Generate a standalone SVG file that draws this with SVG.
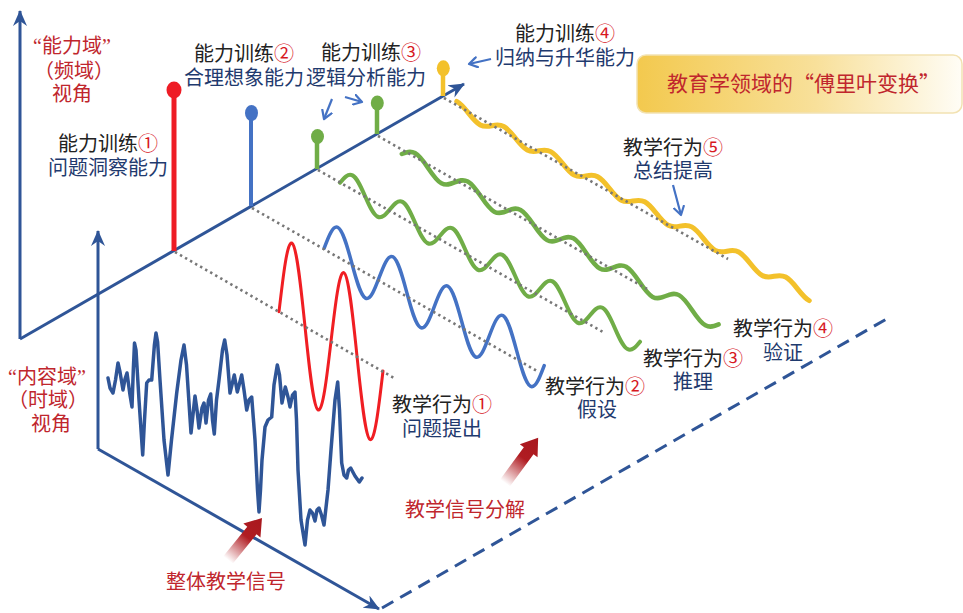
<svg xmlns="http://www.w3.org/2000/svg" width="963" height="613" viewBox="0 0 963 613">
<defs>
<style>
.t{font-family:"Liberation Sans","Noto Sans CJK SC",sans-serif;font-size:20px}
.cjk{font-family:"Noto Sans CJK SC",sans-serif}
.q{font-family:"Liberation Serif",serif}
.k{fill:#222}
.b{fill:#1f3a6e}
.r{fill:#d7191f}
.dr{fill:#c0262d}
.axis{stroke:#2f5597;stroke-width:3;fill:none}
.dot{stroke:#777777;stroke-width:2.6;stroke-dasharray:2.4 3.4;fill:none}
.wave{fill:none;stroke-linecap:round;stroke-linejoin:round}
.sm{stroke:#4472c4;stroke-width:2.2;fill:none}
</style>
<marker id="ah" markerUnits="userSpaceOnUse" markerWidth="18" markerHeight="14" refX="15" refY="7" orient="auto">
<path d="M0,0 L16,7 L0,14 L5,7 z" fill="#2f5597"/>
</marker>
<marker id="sa" markerUnits="userSpaceOnUse" markerWidth="12" markerHeight="12" refX="9" refY="6" orient="auto">
<path d="M1,1 L9,6 L1,11" fill="none" stroke="#4472c4" stroke-width="2.2" stroke-linecap="round" stroke-linejoin="round"/>
</marker>
<linearGradient id="redarrow" x1="0" y1="0" x2="1" y2="0">
<stop offset="0" stop-color="#b01c22" stop-opacity="0"/>
<stop offset="0.55" stop-color="#b01c22" stop-opacity="1"/>
<stop offset="1" stop-color="#a8181e"/>
</linearGradient>
<linearGradient id="title" x1="0" y1="0" x2="1" y2="0">
<stop offset="0" stop-color="#f3c94e"/>
<stop offset="0.55" stop-color="#f8e09a"/>
<stop offset="1" stop-color="#fffdf6"/>
</linearGradient>
</defs>
<rect width="963" height="613" fill="#ffffff"/>

<g id="connectors">
<line class="axis" x1="20" y1="339" x2="20" y2="11" marker-end="url(#ah)"/>
<line class="axis" x1="20" y1="339" x2="464" y2="84" marker-end="url(#ah)"/>
<line class="axis" x1="98" y1="449" x2="98" y2="231" marker-end="url(#ah)"/>
<line class="axis" x1="98" y1="449" x2="379" y2="609" marker-end="url(#ah)"/>
<line class="axis" x1="382" y1="608" x2="890" y2="317" stroke-dasharray="13 8"/>
<line class="sm" x1="332" y1="99" x2="324" y2="119" marker-end="url(#sa)"/>
<line class="sm" x1="345" y1="97" x2="362" y2="102" marker-end="url(#sa)"/>
<line class="sm" x1="491" y1="59" x2="469" y2="64" marker-end="url(#sa)"/>
<line class="sm" x1="673" y1="185" x2="681" y2="215" marker-end="url(#sa)"/>
</g>

<g id="signal-whole">
<polyline class="wave" stroke="#2f5597" stroke-width="3.5" points="108,378 110,388 113,393 115.5,380 118,363 120,372 123,390 125,379 127,373 130,395 132,407 133.3,370 134.5,343 136,350 139,400 142.7,455 144.5,420 146.7,383 149,380 151.7,380 154.4,345 156,333 157.6,342 160,380 164,440 168,475 171.5,440 176.7,393 181,360 184,345 186.5,365 191,433 195,396 197,410 199,428 202,408 204,403 206,423 208.5,400 210.7,394 212.5,420 214.3,434 216.5,400 219,380 222.5,350 224.7,340 227,355 230,393 234.3,375 237.3,392 241.7,375 244,390 246.7,410 249,400 251.7,397 255,440 257.5,490 259,512 260.5,490 262,460 265,427 268,420 271.7,417 274,385 277.3,365 279.5,375 282,403 285.3,387 288,397 290,407 292.5,395 295,392 296.5,420 298,470 301,520 305,545 307.5,520 310,510 312.5,513 315,521 317,510 319,508 321.5,515 324,525 328,490 331,450 335,400 337.7,382 339.5,410 341.7,463 344,475 346.7,478 348.5,470 350.7,468 355,476 359.3,482 362,478"/>
</g>

<g id="wave-yellow">
<path class="wave" stroke="#f3c12b" stroke-width="5" vector-effect="non-scaling-stroke" transform="translate(633,201) skewY(28.1)" d="M-176.25,-5.5 C-167.71,-5.5 -161.29,5.5 -152.75,5.5 S-137.79,-5.5 -129.25,-5.5 S-114.29,5.5 -105.75,5.5 S-90.79,-5.5 -82.25,-5.5 S-67.29,5.5 -58.75,5.5 S-43.79,-5.5 -35.25,-5.5 S-20.29,5.5 -11.75,5.5 S3.21,-5.5 11.75,-5.5 S26.71,5.5 35.25,5.5 S50.21,-5.5 58.75,-5.5 S73.71,5.5 82.25,5.5 S97.21,-5.5 105.75,-5.5 S120.71,5.5 129.25,5.5 S144.21,-5.5 152.75,-5.5 S167.71,5.5 176.25,5.5"/>
</g>
<g id="wave-green2">
<path class="wave" stroke="#70ad47" stroke-width="4.5" vector-effect="non-scaling-stroke" transform="translate(415,161.1) skewY(28.28)" d="M-13.2,0 C-8.9,-4.1 -4.78,-8 0,-8 C9.59,-8 16.81,8 26.4,8 S43.21,-8 52.8,-8 S69.61,8 79.2,8 S96.01,-8 105.6,-8 S122.41,8 132,8 S148.81,-8 158.4,-8 S175.21,8 184.8,8 S201.61,-8 211.2,-8 S228.01,8 237.6,8 S254.41,-8 264,-8 S280.81,8 290.4,8 C295.18,8 299.3,4.1 303.6,0"/>
</g>
<g id="wave-green1">
<path class="wave" stroke="#70ad47" stroke-width="4" vector-effect="non-scaling-stroke" transform="translate(365,196) skewY(27.92)" d="M-25,0 C-20.92,-7.17 -17.02,-14 -12.5,-14 C-3.42,-14 3.42,14 12.5,14 S28.42,-14 37.5,-14 S53.42,14 62.5,14 S78.42,-14 87.5,-14 S103.42,14 112.5,14 S128.42,-14 137.5,-14 S153.42,14 162.5,14 S178.42,-14 187.5,-14 S203.42,14 212.5,14 S228.42,-14 237.5,-14 S253.42,14 262.5,14 C267.02,14 270.92,7.17 275,0"/>
</g>
<g id="wave-blue">
<path class="wave" stroke="#4472c4" stroke-width="3.5" vector-effect="non-scaling-stroke" transform="translate(351.7,262.8) skewY(28.1)" d="M-27.5,0 C-23.02,-14.34 -18.73,-28 -13.75,-28 C-3.76,-28 3.76,28 13.75,28 S31.26,-28 41.25,-28 S58.76,28 68.75,28 S86.26,-28 96.25,-28 S113.76,28 123.75,28 S141.26,-28 151.25,-28 S168.76,28 178.75,28 C183.73,28 188.02,14.34 192.5,0"/>
</g>
<g id="wave-red">
<path class="wave" stroke="#f01e23" stroke-width="3" vector-effect="non-scaling-stroke" transform="translate(305,326.5) skewY(29.68)" d="M-26,0 C-21.76,-38.93 -17.7,-76 -13,-76 C-3.55,-76 3.55,76 13,76 S29.55,-76 39,-76 S55.55,76 65,76 C69.7,76 73.76,38.93 78,0"/>
</g>

<g id="dotted-guides">
<line class="dot" x1="175" y1="252" x2="394" y2="378"/>
<line class="dot" x1="252" y1="208" x2="537" y2="371"/>
<line class="dot" x1="318" y1="170" x2="603" y2="332"/>
<line class="dot" x1="378" y1="136" x2="647" y2="289"/>
<line class="dot" x1="444" y1="98" x2="728" y2="259"/>
</g>

<g id="stem-1">
<line x1="174" y1="251" x2="174" y2="92" stroke="#ee1c25" stroke-width="5"/>
<ellipse cx="174" cy="90" rx="7.5" ry="8.5" fill="#ee1c25"/>
</g>
<g id="stem-2">
<line x1="251" y1="206" x2="251" y2="115" stroke="#4472c4" stroke-width="4"/>
<ellipse cx="251.5" cy="113" rx="6.5" ry="8" fill="#4472c4"/>
</g>
<g id="stem-3a">
<line x1="317" y1="169" x2="317" y2="138" stroke="#70ad47" stroke-width="4.5"/>
<ellipse cx="317.5" cy="136.5" rx="6.5" ry="7.5" fill="#70ad47"/>
</g>
<g id="stem-3b">
<line x1="377" y1="134" x2="377" y2="105" stroke="#70ad47" stroke-width="4.5"/>
<ellipse cx="377.3" cy="103" rx="6.5" ry="7.5" fill="#70ad47"/>
</g>
<g id="stem-4">
<line x1="443" y1="96" x2="443" y2="70" stroke="#f3c12b" stroke-width="4.5"/>
<ellipse cx="443.3" cy="68.3" rx="6.5" ry="8" fill="#f3c12b"/>
</g>

<g id="arrow-whole">
<path transform="translate(228,560) rotate(-51)" fill="url(#redarrow)" d="M0,-6 L38,-6 L38,-11 L54,0 L38,11 L38,6 L0,6 z"/>
</g>
<g id="arrow-decomp">
<path transform="translate(505,483) rotate(-53.7)" fill="url(#redarrow)" d="M0,-6 L40,-6 L40,-11 L56,0 L40,11 L40,6 L0,6 z"/>
</g>

<g id="title-box">
<rect x="637" y="55" width="325" height="58" rx="9" fill="url(#title)" stroke="#f2e2b2" stroke-width="1.5"/>
<text class="t cjk dr" x="667" y="91" style="font-size:21px">教育学领域的“傅里叶变换”</text>
</g>

<g id="label-freq">
<text class="t dr" text-anchor="middle"><tspan x="72" y="53"><tspan class="q">“</tspan>能力域<tspan class="q">”</tspan></tspan><tspan x="74" y="78">（频域）</tspan><tspan x="72" y="101">视角</tspan></text>
</g>
<g id="label-time">
<text class="t dr" text-anchor="middle"><tspan x="47" y="384"><tspan class="q">“</tspan>内容域<tspan class="q">”</tspan></tspan><tspan x="48" y="407">（时域）</tspan><tspan x="51" y="431">视角</tspan></text>
</g>

<g id="label-ability1">
<text class="t k"><tspan x="58" y="151">能力训练<tspan class="r">①</tspan></tspan><tspan class="b" x="48" y="175">问题洞察能力</tspan></text>
</g>
<g id="label-ability2">
<text class="t k"><tspan x="194" y="61">能力训练<tspan class="r">②</tspan></tspan><tspan class="b" x="184" y="85">合理想象能力</tspan></text>
</g>
<g id="label-ability3">
<text class="t k"><tspan x="321" y="60">能力训练<tspan class="r">③</tspan></tspan><tspan class="b" x="306" y="85">逻辑分析能力</tspan></text>
</g>
<g id="label-ability4">
<text class="t k"><tspan x="515" y="41">能力训练<tspan class="r">④</tspan></tspan><tspan class="b" x="495" y="65">归纳与升华能力</tspan></text>
</g>

<g id="label-act1">
<text class="t k"><tspan x="392" y="412">教学行为<tspan class="r">①</tspan></tspan><tspan class="b" x="402" y="436">问题提出</tspan></text>
</g>
<g id="label-act2">
<text class="t k"><tspan x="545" y="394">教学行为<tspan class="r">②</tspan></tspan><tspan class="b" x="577" y="417">假设</tspan></text>
</g>
<g id="label-act3">
<text class="t k"><tspan x="643" y="366">教学行为<tspan class="r">③</tspan></tspan><tspan class="b" x="673" y="389">推理</tspan></text>
</g>
<g id="label-act4">
<text class="t k"><tspan x="733" y="336">教学行为<tspan class="r">④</tspan></tspan><tspan class="b" x="763" y="360">验证</tspan></text>
</g>
<g id="label-act5">
<text class="t k"><tspan x="623" y="155">教学行为<tspan class="r">⑤</tspan></tspan><tspan class="b" x="633" y="178">总结提高</tspan></text>
</g>

<g id="label-whole">
<text class="t dr" x="166" y="589">整体教学信号</text>
</g>
<g id="label-decomp">
<text class="t dr" x="405" y="517">教学信号分解</text>
</g>
</svg>
